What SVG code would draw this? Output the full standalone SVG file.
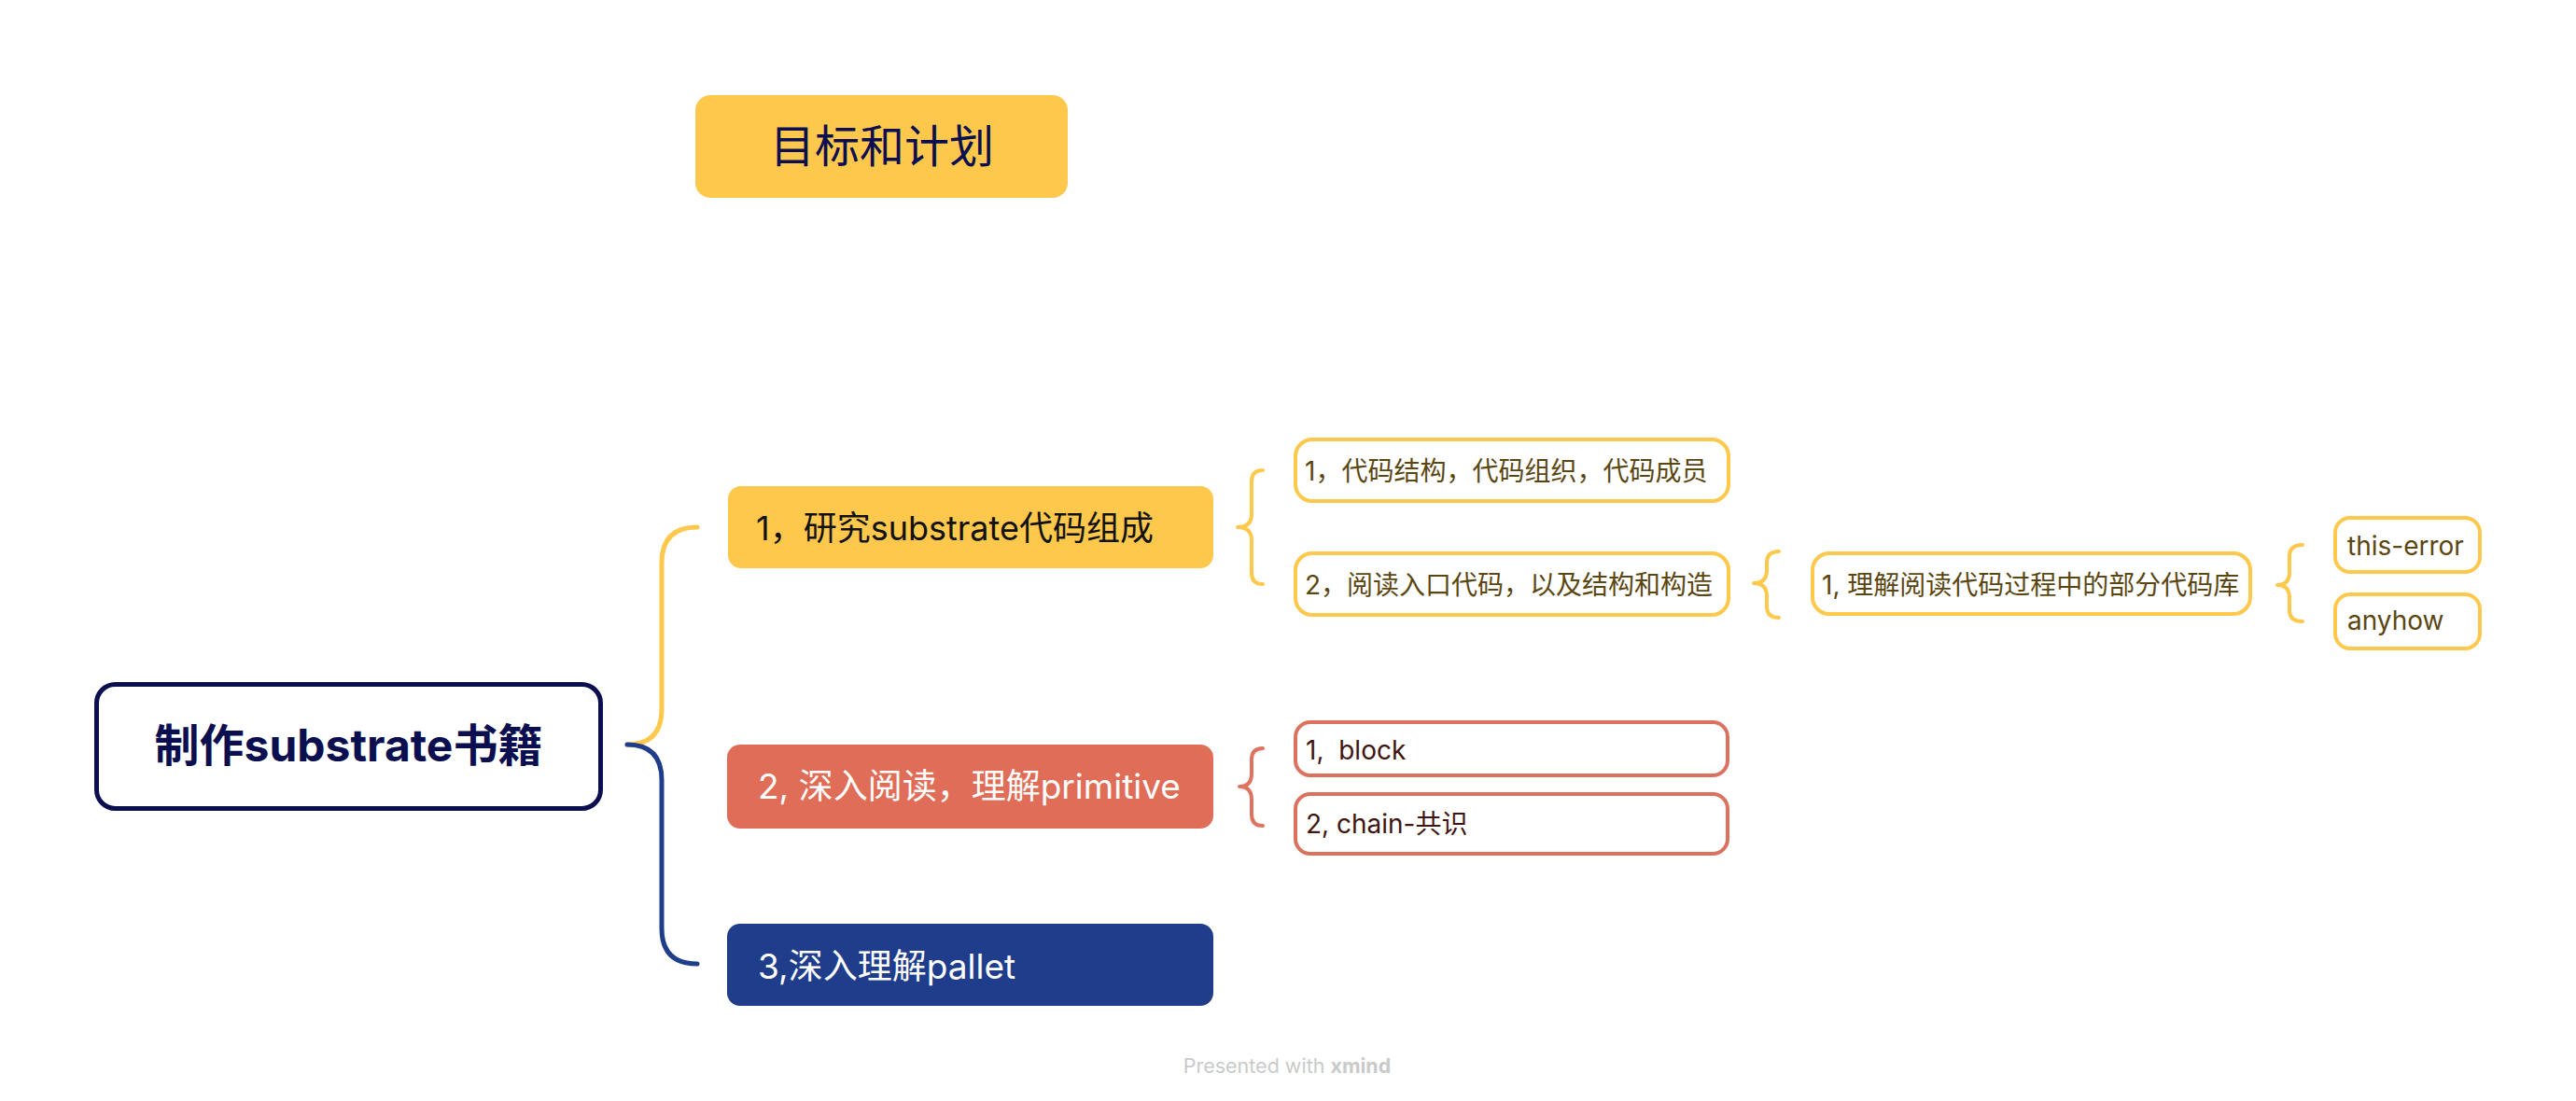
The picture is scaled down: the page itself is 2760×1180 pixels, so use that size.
<svg xmlns="http://www.w3.org/2000/svg" width="2760" height="1180" viewBox="0 0 2760 1180">
<style>
text{font-family:Inter,"Noto Sans CJK SC","Noto Sans",sans-serif;white-space:pre}
.conn{fill:none;stroke-width:5;stroke-linecap:round;stroke-linejoin:round}
.br{fill:none;stroke-width:4;stroke-linecap:round;stroke-linejoin:round}
.y{stroke:#FEC84C}
.r{stroke:#DE7460}
.b{stroke:#1F3D8A}
.ybox{fill:#FEC84C}
.ychild{fill:#fff;stroke:#FEC84C;stroke-width:4}
.rchild{fill:#fff;stroke:#DB7260;stroke-width:4}
.ytxt{font-size:28px;fill:#5B4611}
.rtxt{font-size:28px;fill:#401510}
</style>
<rect width="2760" height="1180" fill="#fff"/>
<g id="connectors">
<path class="conn y" d="M672,798 Q709,798 709,760 L709,603 Q709,565 747,565"/>
<path class="conn b" d="M672,798 Q709,798 709,836 L709,995 Q709,1033 747,1033"/>
<path class="br y" d="M1353,504 Q1341,504 1341,516 L1341,551 Q1341,565 1326,565 Q1341,565 1341,579 L1341,614 Q1341,626 1353,626"/>
<path class="br r" d="M1353,802 Q1341,802 1341,814 L1341,829 Q1341,843 1328,843 Q1341,843 1341,857 L1341,873 Q1341,885 1353,885"/>
<path class="br y" d="M1906,591 Q1893,591 1893,603 L1893,611 Q1893,625 1879,625 Q1893,625 1893,639 L1893,650 Q1893,662 1906,662"/>
<path class="br y" d="M2467,584 Q2453,584 2453,596 L2453,613 Q2453,627 2440,627 Q2453,627 2453,641 L2453,654 Q2453,666 2467,666"/>
</g>
<g id="title">
<rect class="ybox" x="745" y="102" width="399" height="110" rx="16"/>
<text x="945" y="174" font-size="48" text-anchor="middle" fill="#0B0F4F">目标和计划</text>
</g>
<g id="root">
<rect x="103.5" y="733.5" width="540" height="133" rx="20" fill="#fff" stroke="#0B0F4F" stroke-width="5"/>
<text x="373.5" y="816" font-size="48" font-weight="700" text-anchor="middle" fill="#0B0F4F">制作substrate书籍</text>
</g>
<g id="b1">
<rect class="ybox" x="780" y="521" width="520" height="88" rx="14"/>
<text x="810" y="579" font-size="36" fill="#111">1，研究substrate代码组成</text>
</g>
<g id="b2">
<rect x="779" y="798" width="521" height="90" rx="14" fill="#E06D57"/>
<text x="812" y="856" font-size="37" fill="#fff">2, 深入阅读，理解primitive</text>
</g>
<g id="b3">
<rect x="779" y="990" width="521" height="88" rx="14" fill="#1F3D8A"/>
<text x="812" y="1049" font-size="37" fill="#fff">3,深入理解pallet</text>
</g>
<g id="b1a">
<rect class="ychild" x="1388" y="471" width="464" height="66" rx="18"/>
<text class="ytxt" x="1398" y="515">1，代码结构，代码组织，代码成员</text>
</g>
<g id="b1b">
<rect class="ychild" x="1388" y="593" width="464" height="66" rx="18"/>
<text class="ytxt" x="1398" y="637">2，阅读入口代码，以及结构和构造</text>
</g>
<g id="b1b1">
<rect class="ychild" x="1942" y="593" width="469" height="65" rx="18"/>
<text class="ytxt" x="1952" y="637">1, 理解阅读代码过程中的部分代码库</text>
</g>
<g id="this-error">
<rect class="ychild" x="2502" y="555" width="155" height="58" rx="16"/>
<text class="ytxt" x="2515" y="595">this-error</text>
</g>
<g id="anyhow">
<rect class="ychild" x="2502" y="637" width="155" height="58" rx="16"/>
<text class="ytxt" x="2515" y="675">anyhow</text>
</g>
<g id="b2a">
<rect class="rchild" x="1388" y="774" width="463" height="57" rx="16"/>
<text class="rtxt" x="1399" y="814">1,  block</text>
</g>
<g id="b2b">
<rect class="rchild" x="1388" y="851" width="463" height="64" rx="16"/>
<text class="rtxt" x="1399" y="893">2, chain-共识</text>
</g>
<text x="1379" y="1150" font-size="21.5" text-anchor="middle" fill="#CACACA">Presented with <tspan font-weight="700">xmind</tspan></text>
</svg>
